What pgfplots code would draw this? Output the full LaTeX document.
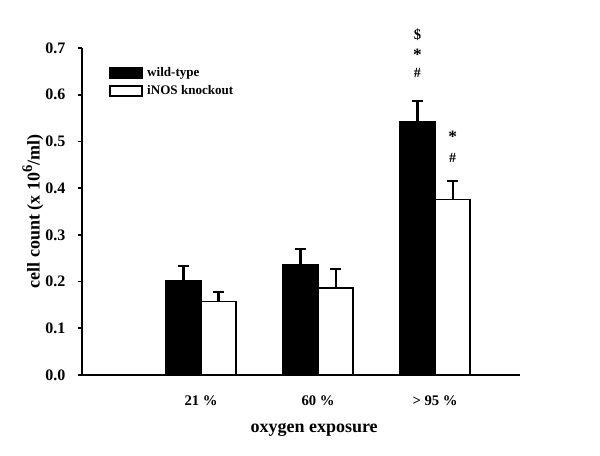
\documentclass[border=0pt]{standalone}
\usepackage{fontspec}
\setmainfont{Liberation Serif}
\usepackage{pgfplots}
\pgfplotsset{compat=1.18}
\begin{document}
\begin{tikzpicture}
\path[use as bounding box] (-61.5pt,-60.75pt) rectangle (388.5pt,281.25pt);
\begin{axis}[
  at={(0pt,0pt)}, anchor=south west,
  scale only axis, width=328.5pt, height=245.25pt,
  xmin=-0.017, xmax=3.726, ymin=0, ymax=0.7,
  axis x line=bottom, axis y line=left,
  axis line style={-, line width=1.3pt, black},
  ybar, bar width=0.3,
  xtick={1,2,3}, xticklabels={21 \%, 60 \%, {> 95 \%}},
  x tick style={draw=none},
  ytick={0,0.1,0.2,0.3,0.4,0.5,0.6,0.7},
  y tick style={line width=1.3pt, black},
  tick align=outside, major tick length=3pt,
  /pgf/number format/assume math mode=true,
  yticklabel style={/pgf/number format/fixed, /pgf/number format/fixed zerofill, /pgf/number format/precision=1, xshift=-6pt, font=\fontsize{12}{13}\selectfont\bfseries},
  xticklabel style={yshift=-9pt, font=\fontsize{11}{12}\selectfont\bfseries},
  xlabel={oxygen exposure},
  ylabel={cell count (x 10\raisebox{0.42em}{\fontsize{11}{11}\selectfont 6}/ml)},
  label style={font=\fontsize{13.5}{16}\selectfont\bfseries},
  xlabel style={at={(axis description cs:0.53,-0.133)}, anchor=north},
  ylabel style={at={(axis description cs:-0.112,0.5)}, anchor=center},
  legend image code/.code={\draw[#1, line width=1pt] (0pt,-3.75pt) rectangle (24pt,3.75pt); \path (25.5pt,0pt);},
  legend style={at={(axis description cs:0.0616,0.949)}, anchor=north west, draw=none, fill=none,
    font=\fontsize{9.8}{11}\selectfont\bfseries, inner sep=0pt, row sep=1pt},
  legend cell align=left,
  clip=false,
]
\addplot[bar shift=-0.15, fill=black, draw=black, line width=1pt,
  error bars/.cd, y dir=plus, y explicit,
  error bar style={line width=1.6pt, black},
  error mark options={rotate=90, line width=1.6pt, mark size=4pt, black}]
  coordinates {(1,0.201) +- (0,0.033) (2,0.237) +- (0,0.033) (3,0.542) +- (0,0.045)};
\addplot[bar shift=0.15, fill=white, draw=black, line width=1pt,
  error bars/.cd, y dir=plus, y explicit,
  error bar style={line width=1.6pt, black},
  error mark options={rotate=90, line width=1.6pt, mark size=4pt, black}]
  coordinates {(1,0.157) +- (0,0.021) (2,0.186) +- (0,0.041) (3,0.375) +- (0,0.040)};
\legend{wild-type, iNOS knockout}
\node[font=\fontsize{11}{12}\selectfont\bfseries] at (axis cs:2.85,0.728) {\$};
\node[font=\fontsize{13}{13}\selectfont\bfseries] at (axis cs:2.85,0.686) {*};
\node[font=\fontsize{10.5}{12}\selectfont\bfseries] at (axis cs:2.85,0.647) {\#};
\node[font=\fontsize{13}{13}\selectfont\bfseries] at (axis cs:3.15,0.509) {*};
\node[font=\fontsize{10.5}{12}\selectfont\bfseries] at (axis cs:3.15,0.465) {\#};
\end{axis}
\end{tikzpicture}
\end{document}
